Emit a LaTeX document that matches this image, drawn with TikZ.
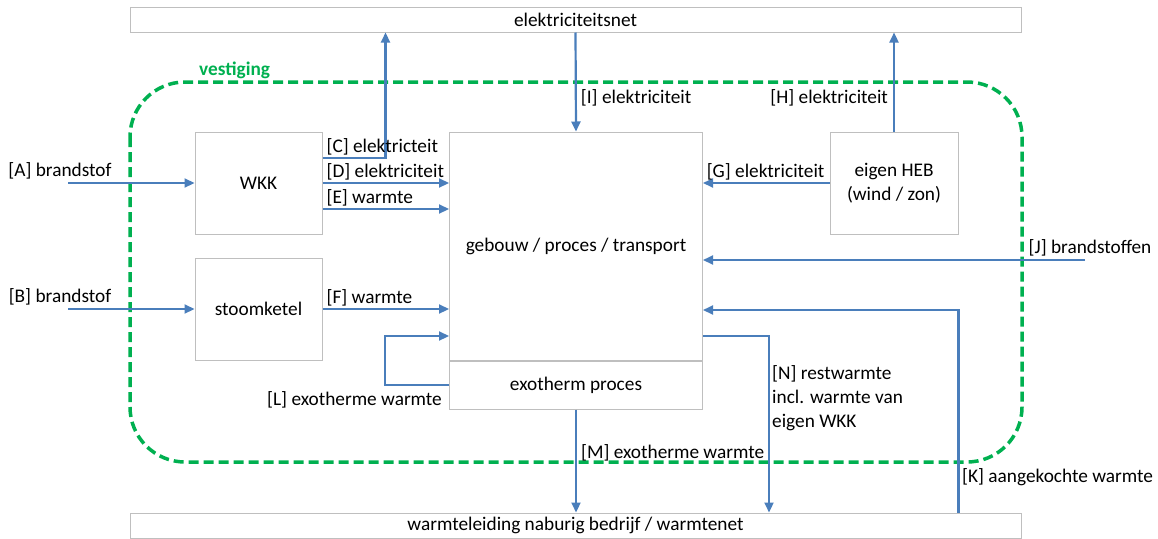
\documentclass[tikz,border=0pt]{standalone}
\usepackage{fontspec}
\setmainfont{Carlito}
\usepackage{xcolor}
\usetikzlibrary{arrows.meta,positioning}

\definecolor{flowblue}{HTML}{4A7EBB}
\definecolor{boxgray}{HTML}{BFBFBF}
\definecolor{sitegreen}{HTML}{00B050}

\begin{document}
\begin{tikzpicture}[x=1pt, y=-1pt,
    font=\fontsize{19.3}{24}\selectfont,
    box/.style={draw=boxgray, line width=1pt, rectangle, inner sep=0pt},
    flow/.style={draw=flowblue, line width=2.2pt, -{Triangle[length=10pt, width=9pt]}},
    lbl/.style={inner sep=1pt, text=black}]
    \useasboundingbox (0,0) rectangle (1158,538);

    % site boundary
    \draw[sitegreen, line width=3.5pt, dash pattern=on 10pt off 5pt, rounded corners=55pt] (130,82) rectangle (1022,462);
    \node[text=sitegreen, font=\fontsize{19.3}{24}\selectfont\bfseries, anchor=south west, inner sep=0pt] (site) at (199,79) {vestiging};

    % boxes
    \node[box, minimum width=891pt, minimum height=25pt] (net) at (575.5,19.5) {elektriciteitsnet};
    \node[box, minimum width=891pt, minimum height=25pt] (warm) at (575.5,525.5) {warmteleiding naburig bedrijf / warmtenet};
    \node[box, minimum width=127pt, minimum height=102pt] (wkk) at (258.5,183) {WKK};
    \node[box, minimum width=127pt, minimum height=102pt] (stoom) at (258.5,309) {stoomketel};
    \node[box, minimum width=253pt, minimum height=228pt] (proc) at (576,246) {gebouw / proces / transport};
    \node[box, minimum width=253pt, minimum height=48pt, below=0pt of proc] (exo) {exotherm proces};
    \node[box, minimum width=128pt, minimum height=102pt, align=center] (heb) at (894,183) {eigen HEB\\(wind / zon)};

    \coordinate (ain) at (68,183);
    \coordinate (bin) at (68,309);
    \coordinate (jin) at (1085,260);

    % flows
    \draw[flow] (ain) -- node[lbl, pos=0, above=2pt, xshift=-8pt] (la) {[A] brandstof} (wkk.west);
    \draw[flow] (bin) -- node[lbl, pos=0, above=2pt, xshift=-8pt] (lb) {[B] brandstof} (stoom.west);
    \draw[flow] ([yshift=25pt]wkk.east) -| node[lbl, pos=0, above right=1pt and 2pt] (lc) {[C] elektricteit} ([xshift=-190pt]net.south);
    \draw[flow] (wkk.east) -- node[lbl, pos=0, above right=1pt and 2pt] (ld) {[D] elektriciteit} (wkk.east -| proc.west);
    \draw[flow] ([yshift=-26pt]wkk.east) -- node[lbl, pos=0, above right=1pt and 2pt] (le) {[E] warmte} ([yshift=-26pt]wkk.east -| proc.west);
    \draw[flow] (stoom.east) -- node[lbl, pos=0, above right=1pt and 2pt] (lf) {[F] warmte} (stoom.east -| proc.west);
    \draw[flow] (heb.west) -- node[lbl, pos=0, above left=1pt and 3pt] (lg) {[G] elektriciteit} (heb.west -| proc.east);
    \draw[flow] (heb.north) -- node[lbl, pos=0.34, left=4pt] (lh) {[H] elektriciteit} (heb.north |- net.south);
    \draw[flow] (net.south) -- node[lbl, pos=0.66, right=3pt] (li) {[I] elektriciteit} (proc.north);
    \draw[flow] (jin) -- node[lbl, pos=0, above=2pt, xshift=5pt] (lj) {[J] brandstoffen} (jin -| proc.east);
    \draw[flow] ([xshift=383pt]warm.north) |- ([yshift=-64pt]proc.east);
    \node[lbl, anchor=west] (lk) at (961,477) {[K] aangekochte warmte};
    \draw[flow] (exo.west) -- ++(-64,0) |- ([yshift=-90pt]proc.west);
    \node[lbl, anchor=east] (ll) at (443,400) {[L] exotherme warmte};
    \draw[flow] (exo.south) -- node[lbl, pos=0.42, right=3pt] (lm) {[M] exotherme warmte} (exo.south |- warm.north);
    \draw[flow] ([yshift=-90pt]proc.east) -| ([xshift=193.5pt]warm.north);
    \node[lbl, anchor=north west, align=left] (ln) at (771,364) {[N] restwarmte\\incl. warmte van\\eigen WKK};
\end{tikzpicture}
\end{document}
